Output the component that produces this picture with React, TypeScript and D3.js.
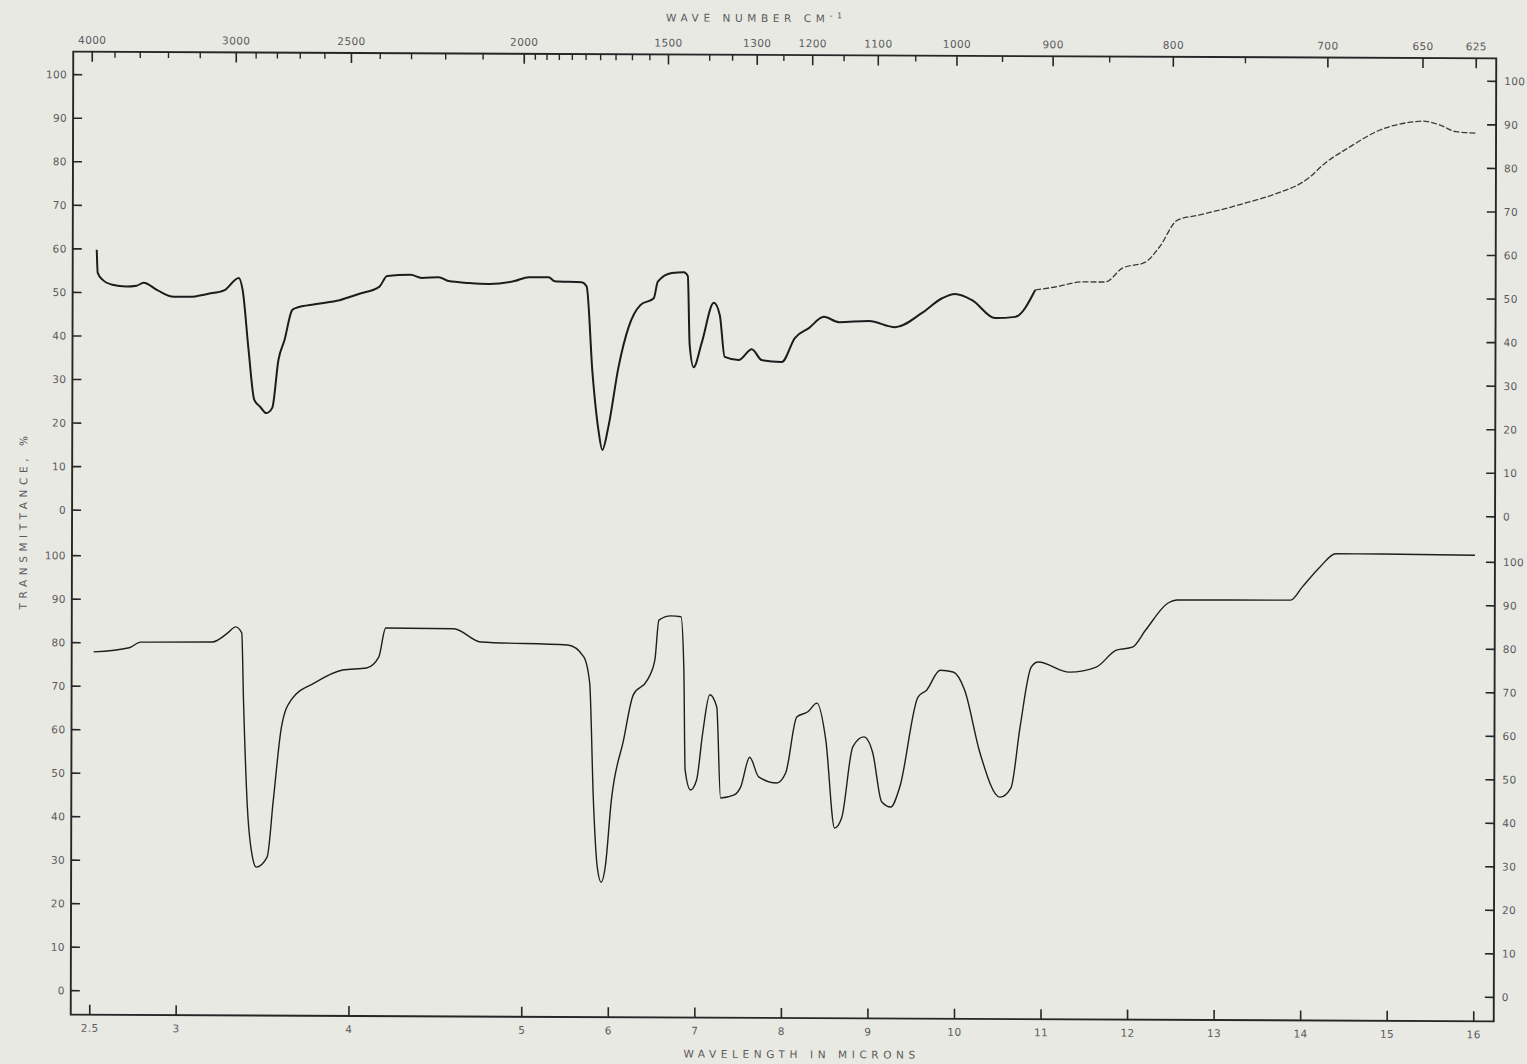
import React from "react";
import * as d3 from "d3";

// ---------- data ----------
const upperWavelength = [
  2.529, 2.535, 2.564, 2.62, 2.7, 2.76, 2.801, 2.88, 2.975, 3.067, 3.17, 3.27, 3.351, 3.374,
  3.409, 3.443, 3.478, 3.513, 3.547, 3.582, 3.617, 3.661, 3.684, 3.8, 3.935, 4.05, 4.164,
  4.21, 4.346, 4.41, 4.508, 4.566, 4.682, 4.797, 4.948, 5.058, 5.289, 5.359, 5.671, 5.728,
  5.798, 5.868, 5.914, 5.983,
  6.099, 6.215, 6.349, 6.504, 6.55, 6.712, 6.851, 6.897, 6.92, 6.966, 7.059, 7.198, 7.267,
  7.325, 7.487, 7.638, 7.753, 7.985, 8.135, 8.297, 8.47, 8.644, 8.991, 9.292, 9.604, 9.835,
  9.986, 10.182, 10.448, 10.68, 10.911, 11.142, 11.455, 11.721, 11.917, 12.183, 12.345,
  12.553, 12.808, 13.34, 13.652, 14.08, 14.231, 14.543, 14.89, 15.272, 15.388, 15.585,
  15.77, 16.0,
];
const upperTransmittance = [
  59.8, 54.5, 52.9, 51.8, 51.4, 51.6, 52.3, 50.6, 49.1, 49.1, 49.8, 50.7, 53.5, 50.7,
  37.0, 25.5, 23.9, 22.5, 23.7, 34.7, 39.3, 46.2, 46.7, 47.6, 48.5, 50.0, 51.6,
  54.1, 54.4, 53.7, 53.9, 53.0, 52.6, 52.4, 53.1, 54.0, 54.0, 53.1, 52.9, 51.9,
  32.1, 19.0, 14.4, 19.7,
  33.5, 42.7, 47.7, 49.3, 53.1, 55.1, 55.3, 54.4, 38.6, 33.5, 39.1, 48.3, 45.5,
  35.9, 35.2, 37.7, 35.2, 34.8, 40.3, 42.6, 45.2, 44.0, 44.3, 42.9, 46.2, 49.6,
  50.6, 49.2, 45.1, 45.4, 51.6, 52.3, 53.5, 53.5, 56.7, 58.1, 61.6,
  67.8, 69.0, 71.8, 73.7, 77.8, 80.6, 84.8, 88.7, 90.6, 90.8, 89.9,
  88.4, 88.1,
];
const lowerWavelength = [
  2.517, 2.723, 2.789, 2.847, 3.203, 3.293, 3.339, 3.374, 3.385, 3.409, 3.443, 3.461, 3.524,
  3.559, 3.605, 3.661, 3.796, 3.958, 4.097, 4.167, 4.207, 4.601, 4.757, 5.521, 5.706, 5.775,
  5.821, 5.868, 5.914, 5.96, 6.029, 6.168, 6.279, 6.44, 6.527, 6.573, 6.712, 6.828, 6.862,
  6.88, 6.943, 7.013, 7.082, 7.163, 7.244, 7.29, 7.448, 7.522, 7.626, 7.73, 7.938, 8.042,
  8.169, 8.297, 8.401, 8.505, 8.609, 8.69, 8.817, 8.944, 9.048, 9.152, 9.257, 9.361, 9.569,
  9.668, 9.824, 9.974, 10.107, 10.287, 10.518, 10.645, 10.749, 10.876, 10.957, 11.316,
  11.628, 11.859, 12.044, 12.195, 12.456, 12.559, 13.872, 14.005, 14.207, 14.392, 14.924,
  16.0,
];
const lowerTransmittance = [
  77.9, 78.9, 80.2, 80.2, 80.3, 82.4, 83.8, 82.4, 67.0, 42.4, 30.2, 28.6, 30.9,
  44.0, 60.8, 67.1, 71.0, 74.0, 74.5, 77.0, 83.7, 83.6, 80.6, 80.0, 77.3, 71.3,
  44.4, 29.0, 25.5, 29.0, 44.4, 58.2, 68.6, 72.0, 76.6, 85.8, 86.8, 86.6, 75.1,
  51.4, 46.8, 49.1, 59.9, 68.7, 65.9, 45.0, 45.7, 47.5, 54.4, 49.9, 48.5, 50.8,
  63.7, 64.9, 66.9, 58.4, 38.2, 40.5, 56.9, 59.2, 55.5, 44.3, 43.1, 47.7, 68.4,
  70.0, 74.6, 74.2, 70.1, 55.6, 45.5, 47.6, 61.6, 75.4, 76.6, 74.3,
  75.5, 79.4, 80.1, 84.0, 90.3, 91.0, 91.1, 94.1, 98.7, 101.8, 101.8,
  101.6,
];

const micronTicks = [2.5, 3, 4, 5, 6, 7, 8, 9, 10, 11, 12, 13, 14, 15, 16];
const micronLabels = ["2.5", "3", "4", "5", "6", "7", "8", "9", "10", "11", "12", "13", "14", "15", "16"];
const wavenumberLabels = [4000, 3000, 2500, 2000, 1500, 1300, 1200, 1100, 1000, 900, 800, 700, 650, 625];
const wavenumberMinor = [
  3800, 3600, 3400, 3200, 2900, 2800, 2700, 2600, 2400, 2300, 2200, 2100,
  1950, 1900, 1850, 1800, 1750, 1700, 1650, 1600, 1550, 1400, 1350, 1250, 1150, 1050, 950, 850, 750,
];
const percentTicks = [100, 90, 80, 70, 60, 50, 40, 30, 20, 10, 0];

// ---------- layout ----------
const W = 1527;
const H = 1064;
const frame = { left: 71, right: 1494, top: 55, bottom: 1018 };
const ink = "#262626";
const textInk = "#5a5a5a";
const font = "'DejaVu Sans', 'Open Sans', sans-serif";

export default function App() {
  const x = d3.scaleLinear().domain([2.5, 5, 16]).range([90, 522, 1474]);
  const yUp = d3.scaleLinear().domain([0, 100]).range([513.5, 78]);
  const yLo = d3.scaleLinear().domain([0, 100]).range([994, 559]);

  const upper: [number, number][] = upperWavelength.map((w, i) => [w, upperTransmittance[i]]);
  const lower: [number, number][] = lowerWavelength.map((w, i) => [w, lowerTransmittance[i]]);
  const split = 10.9;
  const upperA = upper.filter((d) => d[0] <= split + 0.02);
  const upperB = upper.filter((d) => d[0] >= split);

  const lineUp = d3
    .line<[number, number]>()
    .x((d) => x(d[0]))
    .y((d) => yUp(d[1]))
    .curve(d3.curveMonotoneX);
  const lineLo = d3
    .line<[number, number]>()
    .x((d) => x(d[0]))
    .y((d) => yLo(d[1]))
    .curve(d3.curveMonotoneX);

  const labelStyle: React.CSSProperties = {
    fontFamily: font,
    fontSize: 10.5,
    fill: textInk,
    letterSpacing: "0.4px",
  };
  const titleStyle: React.CSSProperties = {
    fontFamily: font,
    fontSize: 10.5,
    fill: textInk,
    letterSpacing: "4.6px",
  };

  return (
    <svg
      width={W}
      height={H}
      viewBox={`0 0 ${W} ${H}`}
      style={{ position: "absolute", left: 0, top: 0, display: "block" }}
    >
      <rect x={0} y={0} width={W} height={H} fill="#e9e9e4" />
      <g transform="translate(1 0) translate(782 535) rotate(0.15) skewY(0.12) translate(-782 -535)">
        {/* frame */}
        <rect
          x={frame.left}
          y={frame.top}
          width={frame.right - frame.left}
          height={frame.bottom - frame.top}
          fill="none"
          stroke={ink}
          strokeWidth={1.9}
        />

        {/* top axis: wavenumber */}
        <text x={754} y={22} textAnchor="middle" style={titleStyle}>
          WAVE NUMBER CM
          <tspan dy={-4} fontSize={8}>-1</tspan>
        </text>
        {wavenumberLabels.map((wn) => (
          <g key={"wl" + wn}>
            <line x1={x(10000 / wn)} x2={x(10000 / wn)} y1={frame.top} y2={frame.top + 10} stroke={ink} strokeWidth={1.6} />
            <text x={x(10000 / wn)} y={47} textAnchor="middle" style={labelStyle}>
              {wn}
            </text>
          </g>
        ))}
        {wavenumberMinor.map((wn) => (
          <line
            key={"wm" + wn}
            x1={x(10000 / wn)}
            x2={x(10000 / wn)}
            y1={frame.top}
            y2={frame.top + 6}
            stroke={ink}
            strokeWidth={1.4}
          />
        ))}

        {/* bottom axis: microns */}
        {micronTicks.map((m, i) => (
          <g key={"m" + m}>
            <line x1={x(m)} x2={x(m)} y1={frame.bottom} y2={frame.bottom - 10} stroke={ink} strokeWidth={1.6} />
            <text x={x(m)} y={1035} textAnchor="middle" style={labelStyle}>
              {micronLabels[i]}
            </text>
          </g>
        ))}
        <text x={802} y={1058} textAnchor="middle" style={titleStyle}>
          WAVELENGTH IN MICRONS
        </text>

        {/* y axes */}
        {[yUp, yLo].map((ys, k) =>
          percentTicks.map((p) => (
            <g key={"p" + k + "-" + p}>
              <line x1={frame.left} x2={frame.left + 9} y1={ys(p)} y2={ys(p)} stroke={ink} strokeWidth={1.6} />
              <line x1={frame.right} x2={frame.right - 9} y1={ys(p)} y2={ys(p)} stroke={ink} strokeWidth={1.6} />
              <text x={65} y={ys(p)} dy="0.35em" textAnchor="end" style={labelStyle}>
                {p}
              </text>
              <text x={1502} y={ys(p)} dy="0.35em" textAnchor="start" style={labelStyle}>
                {p}
              </text>
            </g>
          ))
        )}
        <text transform="translate(26 524) rotate(-90)" textAnchor="middle" style={titleStyle}>
          TRANSMITTANCE, %
        </text>

        {/* spectra */}
        <path d={lineUp(upperA) || ""} fill="none" stroke="#1c1c1c" strokeWidth={2} strokeLinejoin="round" />
        <path
          d={lineUp(upperB) || ""}
          fill="none"
          stroke="#3a3a3a"
          strokeWidth={1.3}
          strokeDasharray="6 2"
        />
        <path d={lineLo(lower) || ""} fill="none" stroke="#1e1e1e" strokeWidth={1.4} strokeLinejoin="round" />
      </g>
    </svg>
  );
}
